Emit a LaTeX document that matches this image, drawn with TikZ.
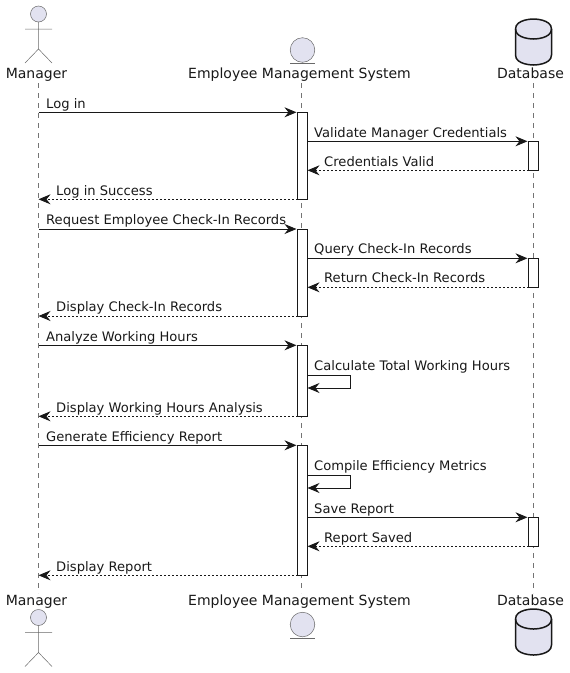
\documentclass[tikz,border=0pt]{standalone}
\usepackage{fontspec}
\setmainfont{DejaVu Sans}
\usetikzlibrary{arrows.meta}
\definecolor{partfill}{HTML}{E2E2F0}
\definecolor{partline}{HTML}{181818}
\tikzset{
  namelabel/.style={inner sep=0pt,anchor=base,font=\fontsize{14}{16}\selectfont,text=partline},
  msglabel/.style={inner sep=0pt,anchor=base west,font=\fontsize{13.1}{15}\selectfont,text=partline},
  lifeline/.style={draw=partline!60,line width=0.5pt,dash pattern=on 5pt off 5pt},
  activebar/.style={draw=partline,fill=white,line width=1pt,minimum width=10pt,inner sep=0pt,outer sep=0pt,anchor=north},
  msgline/.style={draw=partline,line width=1pt,-{Stealth[length=12pt,width=10pt,inset=4pt]}},
  replyline/.style={msgline,dash pattern=on 2pt off 2pt},
  thinpart/.style={draw=partline!65,line width=0.5pt},
  actorfig/.pic={
    \draw[thinpart,fill=partfill] (0,0) circle (8);
    \draw[thinpart] (0,8) -- (0,35) (-13.5,15) -- (13.5,15) (-13.5,49) -- (0,35) -- (13.5,49);
  },
  entityfig/.pic={
    \draw[thinpart,fill=partfill] (0,0) circle (12.3);
    \draw[thinpart] (-12.5,13.5) -- (12.5,13.5);
  },
  dbfig/.pic={
    \draw[draw=partline,fill=partfill,line width=1.5pt] (-18,10) .. controls (-18,0) and (0,0) .. (0,0)
      .. controls (0,0) and (18,0) .. (18,10) -- (18,36) .. controls (18,46) and (0,46) .. (0,46)
      .. controls (0,46) and (-18,46) .. (-18,36) -- cycle;
    \draw[draw=partline,line width=1.5pt] (-18,10) .. controls (-18,20) and (0,20) .. (0,20)
      .. controls (0,20) and (18,20) .. (18,10);
  },
}
\begin{document}
\begin{tikzpicture}[x=1pt,y=-1pt]
\useasboundingbox (0,0) rectangle (570,673);
% participants, top and bottom
\pic at (38.5,14) {actorfig};
\pic at (38.5,617.5) {actorfig};
\pic at (302.5,50) {entityfig};
\pic at (302.5,624.5) {entityfig};
\pic at (533.5,19) {dbfig};
\pic at (533.5,609) {dbfig};
\node[namelabel] (mgrName) at (36.5,78) {Manager};
\node[namelabel] (emsName) at (299.5,78) {Employee Management System};
\node[namelabel] (dbName) at (530.5,78) {Database};
\node[namelabel] (mgrNameB) at (36.5,605) {Manager};
\node[namelabel] (emsNameB) at (299.5,605) {Employee Management System};
\node[namelabel] (dbNameB) at (530.5,605) {Database};
% lifelines
\coordinate (mgrTop) at (38.5,83);
\coordinate (mgrBot) at (38.5,593);
\coordinate (emsTop) at (301.5,83);
\coordinate (emsBot) at (301.5,593);
\coordinate (dbTop) at (533.5,83);
\coordinate (dbBot) at (533.5,593);
\draw[lifeline] (mgrTop) -- (mgrBot);
\draw[lifeline] (emsTop) -- (emsBot);
\draw[lifeline] (dbTop) -- (dbBot);
% activation bars
\node[activebar,minimum height=87pt] (bar1) at (302.5,112.3) {};
\node[activebar,minimum height=29pt] (bar2) at (533.5,141.3) {};
\node[activebar,minimum height=87pt] (bar3) at (302.5,229) {};
\node[activebar,minimum height=29pt] (bar4) at (533.5,258.3) {};
\node[activebar,minimum height=71pt] (bar5) at (302.5,345.3) {};
\node[activebar,minimum height=130pt] (bar6) at (302.5,445.3) {};
\node[activebar,minimum height=29pt] (bar7) at (533.5,517.3) {};
% messages
\coordinate (loop1) at (350,375);
\coordinate (loop2) at (350,388);
\coordinate (loop3) at (350,475);
\coordinate (loop4) at (350,488);
\draw[msgline,shorten >=1pt] (mgrTop |- bar1.north) -- (bar1.north west);
\draw[msgline,shorten >=1pt] (bar1.east |- bar2.north) -- (bar2.north west);
\draw[replyline] (bar2.south west) -- (bar1.east |- bar2.south);
\draw[replyline] (bar1.south west) -- (mgrTop |- bar1.south);
\draw[msgline,shorten >=1pt] (mgrTop |- bar3.north) -- (bar3.north west);
\draw[msgline,shorten >=1pt] (bar3.east |- bar4.north) -- (bar4.north west);
\draw[replyline] (bar4.south west) -- (bar3.east |- bar4.south);
\draw[replyline] (bar3.south west) -- (mgrTop |- bar3.south);
\draw[msgline,shorten >=1pt] (mgrTop |- bar5.north) -- (bar5.north west);
\draw[msgline] (bar5.east |- loop1) -- (loop1) -- (loop2) -- (bar5.east |- loop2);
\draw[replyline] (bar5.south west) -- (mgrTop |- bar5.south);
\draw[msgline,shorten >=1pt] (mgrTop |- bar6.north) -- (bar6.north west);
\draw[msgline] (bar6.east |- loop3) -- (loop3) -- (loop4) -- (bar6.east |- loop4);
\draw[msgline,shorten >=1pt] (bar6.east |- bar7.north) -- (bar7.north west);
\draw[replyline] (bar7.south west) -- (bar6.east |- bar7.south);
\draw[replyline] (bar6.south west) -- (mgrTop |- bar6.south);
% message texts
\node[msglabel] (txt1) at (46,108) {Log in};
\node[msglabel] (txt2) at (314,137) {Validate Manager Credentials};
\node[msglabel] (txt3) at (324,166) {Credentials Valid};
\node[msglabel] (txt4) at (56,195) {Log in Success};
\node[msglabel] (txt5) at (46,224.5) {Request Employee Check-In Records};
\node[msglabel] (txt6) at (314,253.5) {Query Check-In Records};
\node[msglabel] (txt7) at (324,282.5) {Return Check-In Records};
\node[msglabel] (txt8) at (56,311.5) {Display Check-In Records};
\node[msglabel] (txt9) at (46,341) {Analyze Working Hours};
\node[msglabel] (txt10) at (314,370.5) {Calculate Total Working Hours};
\node[msglabel] (txt11) at (56,412) {Display Working Hours Analysis};
\node[msglabel] (txt12) at (46,441.5) {Generate Efficiency Report};
\node[msglabel] (txt13) at (314,470.5) {Compile Efficiency Metrics};
\node[msglabel] (txt14) at (314,513) {Save Report};
\node[msglabel] (txt15) at (324,542) {Report Saved};
\node[msglabel] (txt16) at (56,571) {Display Report};
\end{tikzpicture}
\end{document}
